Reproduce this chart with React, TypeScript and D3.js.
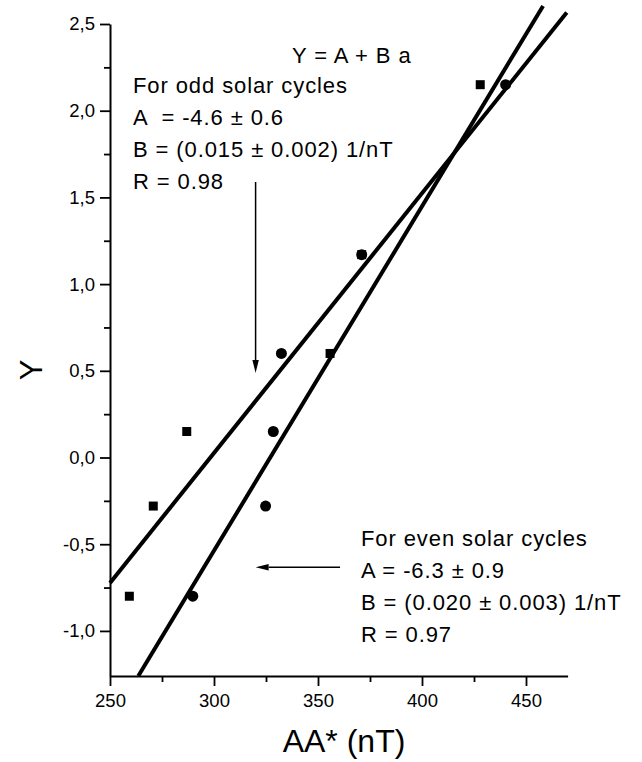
import * as d3 from 'd3';
import { useEffect, useRef } from 'react';

// points (AA* in nT, Y)
const oddAA = [259.3, 270.8, 286.9, 355.8, 371, 428];
const oddY = [-0.8, -0.28, 0.15, 0.6, 1.17, 2.15];
const evenAA = [289.8, 324.8, 328.5, 332.4, 371, 440.2];
const evenY = [-0.8, -0.28, 0.15, 0.6, 1.17, 2.15];

// fitted lines as drawn: [intercept, slope, aStart, aEnd]
const oddFit = [-4.468, 0.01498, 250, 469.6];
const evenFit = [-6.494, 0.019856, 263.6, 458.2];

const xTicks = [250, 300, 350, 400, 450];
const xMinor = [275, 325, 375, 425];
const yTicks = [-1.0, -0.5, 0.0, 0.5, 1.0, 1.5, 2.0, 2.5];
const yMinor = [-0.75, -0.25, 0.25, 0.75, 1.25, 1.75, 2.25];

const oddText = ['For odd solar cycles', 'A  = -4.6 ± 0.6', 'B = (0.015 ± 0.002) 1/nT', 'R = 0.98'];
const evenText = ['For even solar cycles', 'A = -6.3 ± 0.9', 'B = (0.020 ± 0.003) 1/nT', 'R = 0.97'];

const FONT = 'Liberation Sans, Arial, sans-serif';

export default function App() {
    const ref = useRef<SVGSVGElement>(null);

    var width = 642, height = 762;

    useEffect(() => {
        drawChart();
    }, []);

    function drawChart() {
        const svg = d3.select(ref.current);
        svg.selectAll('*').remove();

        const x = d3.scaleLinear().domain([250, 470]).range([110, 567.6]);
        const y = d3.scaleLinear().domain([-1.26, 2.5]).range([676, 24]);
        const fmt = (d: number) => d.toFixed(1).replace('.', ',');

        // Y axis, major + minor ticks
        const ya = svg.append('g').attr('transform', 'translate(' + x(250) + ',0)')
            .call(d3.axisLeft(y).tickValues(yTicks).tickSize(10).tickSizeOuter(0).tickPadding(5).tickFormat(fmt as any));
        svg.append('g').attr('transform', 'translate(' + x(250) + ',0)')
            .call(d3.axisLeft(y).tickValues(yMinor).tickSize(6).tickSizeOuter(0).tickFormat(() => ''))
            .select('.domain').remove();

        // X axis
        const xa = svg.append('g').attr('transform', 'translate(0,' + y(-1.26) + ')')
            .call(d3.axisBottom(x).tickValues(xTicks).tickSize(10).tickSizeOuter(0).tickPadding(8).tickFormat(d3.format('d') as any));
        svg.append('g').attr('transform', 'translate(0,' + y(-1.26) + ')')
            .call(d3.axisBottom(x).tickValues(xMinor).tickSize(6).tickSizeOuter(0).tickFormat(() => ''))
            .select('.domain').remove();

        svg.selectAll('.domain').attr('stroke', '#000').attr('stroke-width', 2);
        svg.selectAll('.tick line').attr('stroke', '#000').attr('stroke-width', 1.8);
        [ya, xa].forEach(g => g.selectAll('text')
            .attr('fill', '#000')
            .style('font-family', FONT)
            .style('font-size', '18.5px'));

        // axis titles
        svg.append('text')
            .attr('transform', 'translate(42,370) rotate(-90)')
            .attr('text-anchor', 'middle')
            .style('font-family', FONT)
            .style('font-size', '31px')
            .text('Y');
        svg.append('text')
            .attr('x', 344).attr('y', 752)
            .attr('text-anchor', 'middle')
            .style('font-family', FONT)
            .style('font-size', '32px')
            .text('AA* (nT)');

        // regression lines (not clipped, they run past the axis top)
        [oddFit, evenFit].forEach(f => {
            const pts: [number, number][] = [[f[2], f[0] + f[1] * f[2]], [f[3], f[0] + f[1] * f[3]]];
            svg.append('path')
                .attr('d', d3.line().x(d => x(d[0])).y(d => y(d[1]))(pts))
                .attr('fill', 'none')
                .attr('stroke', '#000')
                .attr('stroke-width', 4);
        });

        // odd cycles: squares
        svg.selectAll('rect.odd')
            .data(oddAA)
            .enter()
            .append('rect')
            .attr('class', 'odd')
            .attr('x', d => x(d) - 4.5)
            .attr('y', (d, i) => y(oddY[i]) - 4.5)
            .attr('width', 9)
            .attr('height', 9)
            .attr('fill', '#000');

        // even cycles: circles
        svg.selectAll('circle.even')
            .data(evenAA)
            .enter()
            .append('circle')
            .attr('class', 'even')
            .attr('cx', d => x(d))
            .attr('cy', (d, i) => y(evenY[i]))
            .attr('r', 5.5)
            .attr('fill', '#000');

        // annotations
        const txt = (xx: number, yy: number, s: string) => svg.append('text')
            .attr('x', xx).attr('y', yy)
            .attr('xml:space', 'preserve')
            .style('white-space', 'pre')
            .style('font-family', FONT)
            .style('font-size', '22px')
            .style('letter-spacing', '0.9px')
            .text(s);
        txt(292, 63, 'Y = A + B a');
        oddText.forEach((s, i) => txt(133, 93 + i * 32, s));
        evenText.forEach((s, i) => txt(361, 546 + i * 32, s));

        // arrows
        const arrow = (x1: number, y1: number, x2: number, y2: number) => {
            const px1 = x(x1), py1 = y(y1), px2 = x(x2), py2 = y(y2);
            const ang = Math.atan2(py2 - py1, px2 - px1);
            const L = 13, W = 3.2;
            const bx = px2 - L * Math.cos(ang), by = py2 - L * Math.sin(ang);
            svg.append('line')
                .attr('x1', px1).attr('y1', py1).attr('x2', bx).attr('y2', by)
                .attr('stroke', '#000').attr('stroke-width', 1.5);
            svg.append('path')
                .attr('d', 'M' + px2 + ',' + py2 +
                    'L' + (bx - W * Math.sin(ang)) + ',' + (by + W * Math.cos(ang)) +
                    'L' + (bx + W * Math.sin(ang)) + ',' + (by - W * Math.cos(ang)) + 'Z')
                .attr('fill', '#000');
        };
        arrow(320, 1.589, 320, 0.487);
        arrow(360.6, -0.633, 320, -0.633);
    }

    return (
        <svg ref={ref} width={width} height={height}
            style={{ position: 'absolute', left: 0, top: 0, background: '#fff' }} />
    );
}
